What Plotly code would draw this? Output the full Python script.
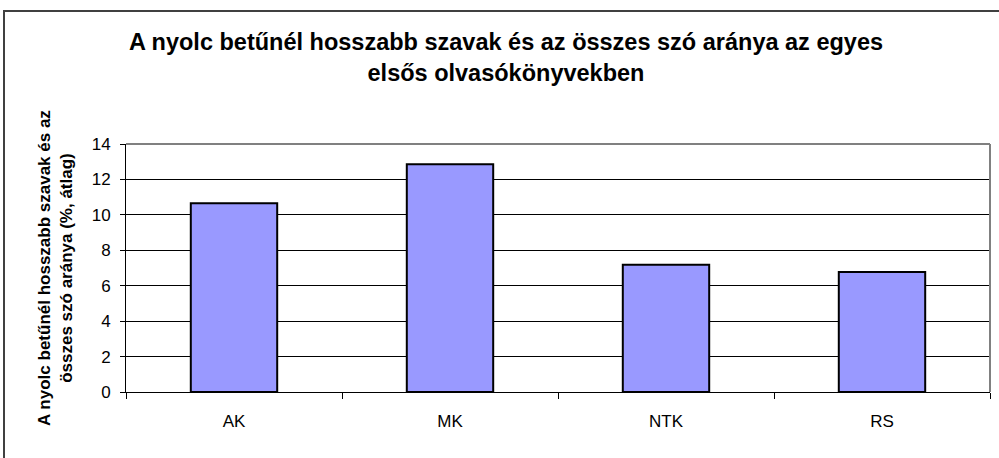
import plotly.graph_objects as go

categories = ["AK", "MK", "NTK", "RS"]
values = [10.65, 12.85, 7.18, 6.78]
y_ticks = [0, 2, 4, 6, 8, 10, 12, 14]

title_text = "A nyolc betűnél hosszabb szavak és az összes szó aránya az egyes<br>elsős olvasókönyvekben"
ytitle_text = "A nyolc betűnél hosszabb szavak és az<br>összes szó aránya (%, átlag)"

FONT = "Liberation Sans, Arial, sans-serif"

fig = go.Figure()
fig.add_trace(go.Bar(
    x=categories, y=values,
    marker=dict(color="#9999FF", line=dict(color="black", width=2)),
    width=0.4,
))

W, H = 999, 458
L, R, T, B = 126, 9, 144, 66
pw, ph = W - L - R, H - T - B

def px_x(x):
    return (x - L) / pw

def px_y(y):
    return (H - B - y) / ph

fig.update_layout(
    width=W, height=H,
    margin=dict(l=L, r=R, t=T, b=B, autoexpand=False),
    paper_bgcolor="white", plot_bgcolor="white",
    showlegend=False,
    font=dict(family=FONT, color="black", size=17),
    title=dict(text="<b>" + title_text + "</b>", x=506 / W, xanchor="center",
               xref="container", yref="container", y=1 - 50 / H, yanchor="middle",
               font=dict(size=23.5, family=FONT, color="black")),
    xaxis=dict(
        type="category", showgrid=False, showline=True, linecolor="black", linewidth=1,
        ticks="outside", tickson="boundaries", ticklen=6, tickcolor="black",
        tickfont=dict(size=17, family=FONT, color="black"), ticklabelstandoff=14,
        zeroline=False,
    ),
    yaxis=dict(
        range=[0, 14], tickvals=y_ticks, showgrid=True, gridcolor="black", gridwidth=1,
        showline=True, linecolor="black", linewidth=1, ticks="outside", ticklen=5,
        tickcolor="black", tickfont=dict(size=17, family=FONT, color="black"),
        ticklabelstandoff=6, zeroline=False,
    ),
    bargap=0.6,
)

# plot area border (gray): top and right edges
fig.add_shape(type="line", xref="paper", yref="paper", x0=0, x1=1, y0=1, y1=1,
              line=dict(color="#808080", width=2), layer="above")
fig.add_shape(type="line", xref="paper", yref="paper", x0=1, x1=1, y0=0, y1=1,
              line=dict(color="#808080", width=2), layer="above")
# outer chart border
fig.add_shape(type="rect", xref="paper", yref="paper",
              x0=px_x(4), x1=px_x(1010), y0=px_y(470), y1=px_y(11),
              line=dict(color="#404040", width=2))

fig.add_annotation(text="<b>" + ytitle_text + "</b>", xref="paper", yref="paper",
                   x=px_x(55), y=0.5, xanchor="center", yanchor="middle",
                   textangle=-90, showarrow=False,
                   font=dict(size=17, family=FONT, color="black"))

fig.write_html("out.html", config={"displayModeBar": False})

with open("out.html", "r", encoding="utf-8") as f:
    html = f.read()
html = html.replace("<head>", "<head><style>html,body{margin:0;padding:0;overflow:hidden;}</style>", 1)
with open("out.html", "w", encoding="utf-8") as f:
    f.write(html)
